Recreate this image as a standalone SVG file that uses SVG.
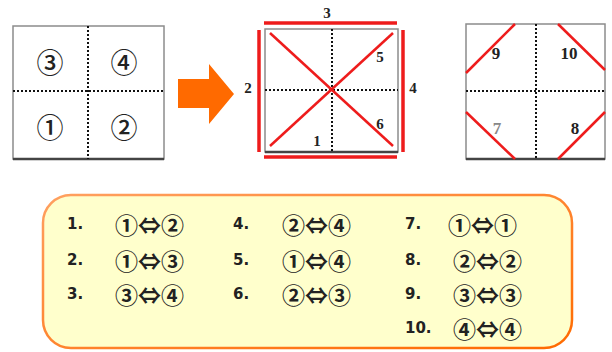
<svg xmlns="http://www.w3.org/2000/svg" width="612" height="352" viewBox="0 0 612 352">
<defs>
<style>
.frame{fill:#fff;stroke:#8c8c8c;stroke-width:1.5}
.base{stroke:#444;stroke-width:2.5}
.dot{stroke:#111;stroke-width:2;stroke-dasharray:2 2;fill:none}
.red{stroke:#ee1c1c;stroke-width:2.5;fill:none}
.bar{stroke:#ee1c1c;stroke-width:3.5;fill:none}
.circ{font-family:"Noto Sans CJK JP","DejaVu Sans",sans-serif;font-size:27px;font-weight:500;fill:#222;text-anchor:middle;dominant-baseline:central}
.lab{font-family:"Liberation Serif",serif;font-weight:bold;font-size:15px;fill:#222;text-anchor:middle;dominant-baseline:central}
.num{font-family:"DejaVu Sans",sans-serif;font-size:15px;font-weight:bold;fill:#222;dominant-baseline:central}
.pair{font-family:"Noto Sans CJK JP","DejaVu Sans",sans-serif;font-size:23px;font-weight:bold;fill:#222;dominant-baseline:central}
</style>
<linearGradient id="bd" x1="0" y1="0" x2="1" y2="1">
<stop offset="0" stop-color="#ffa060"/>
<stop offset="1" stop-color="#ff6a00"/>
</linearGradient>
</defs>

<g id="grid-original">
<rect class="frame" x="13" y="26" width="151" height="133"/>
<line class="base" x1="13" y1="159" x2="164" y2="159"/>
<line class="dot" x1="88" y1="26" x2="88" y2="159"/>
<line class="dot" x1="13" y1="91" x2="164" y2="91"/>
<text class="circ" x="50" y="61">③</text>
<text class="circ" x="124" y="61">④</text>
<text class="circ" x="50" y="126">①</text>
<text class="circ" x="124" y="126">②</text>
</g>

<g id="arrow">
<polygon points="178,79 209,79 209,64 234,94 209,124 209,108 178,108" fill="#ff6a00"/>
</g>

<g id="grid-symmetries">
<rect class="frame" x="265" y="29" width="133" height="123"/>
<line class="base" x1="265" y1="152" x2="398" y2="152"/>
<line class="dot" x1="332" y1="29" x2="332" y2="152"/>
<line class="dot" x1="265" y1="90" x2="398" y2="90"/>
<line class="bar" x1="264" y1="23" x2="397" y2="23"/>
<line class="bar" x1="264" y1="157" x2="397" y2="157"/>
<line class="bar" x1="259" y1="30" x2="259" y2="152"/>
<line class="bar" x1="403" y1="30" x2="403" y2="152"/>
<line class="red" x1="270" y1="33" x2="393" y2="146"/>
<line class="red" x1="270" y1="146" x2="393" y2="33"/>
<text class="lab" x="327" y="13">3</text>
<text class="lab" x="248" y="88">2</text>
<text class="lab" x="413" y="88">4</text>
<text class="lab" x="380" y="57">5</text>
<text class="lab" x="380" y="124">6</text>
<text class="lab" x="317" y="141">1</text>
</g>

<g id="grid-corners">
<rect class="frame" x="466" y="24" width="139" height="135"/>
<line class="base" x1="466" y1="159" x2="605" y2="159"/>
<line class="dot" x1="536" y1="24" x2="536" y2="159"/>
<line class="dot" x1="466" y1="91" x2="605" y2="91"/>
<line class="red" x1="466" y1="73" x2="515" y2="24"/>
<line class="red" x1="558" y1="24" x2="605" y2="70"/>
<line class="red" x1="466" y1="112" x2="515" y2="159"/>
<line class="red" x1="558" y1="159" x2="605" y2="112"/>
<text class="lab" x="496" y="53" style="font-size:17px">9</text>
<text class="lab" x="569" y="53" style="font-size:17px">10</text>
<text class="lab" x="497" y="128" style="font-size:17px;fill:#888">7</text>
<text class="lab" x="575" y="128" style="font-size:17px">8</text>
</g>

<g id="list">
<rect x="43" y="195" width="529" height="153" rx="28" ry="28" fill="#ffffcc" stroke="url(#bd)" stroke-width="2.5"/>
<text class="num" x="67" y="224">1.</text>
<text class="pair" x="115" y="224">①⇔②</text>
<text class="num" x="67" y="260">2.</text>
<text class="pair" x="115" y="260">①⇔③</text>
<text class="num" x="67" y="294">3.</text>
<text class="pair" x="115" y="294">③⇔④</text>
<text class="num" x="233" y="224">4.</text>
<text class="pair" x="282" y="224">②⇔④</text>
<text class="num" x="233" y="260">5.</text>
<text class="pair" x="282" y="260">①⇔④</text>
<text class="num" x="233" y="294">6.</text>
<text class="pair" x="282" y="294">②⇔③</text>
<text class="num" x="405" y="224">7.</text>
<text class="pair" x="448" y="224">①⇔①</text>
<text class="num" x="405" y="260">8.</text>
<text class="pair" x="453" y="260">②⇔②</text>
<text class="num" x="405" y="294">9.</text>
<text class="pair" x="453" y="294">③⇔③</text>
<text class="num" x="405" y="328">10.</text>
<text class="pair" x="453" y="328">④⇔④</text>
</g>
</svg>
